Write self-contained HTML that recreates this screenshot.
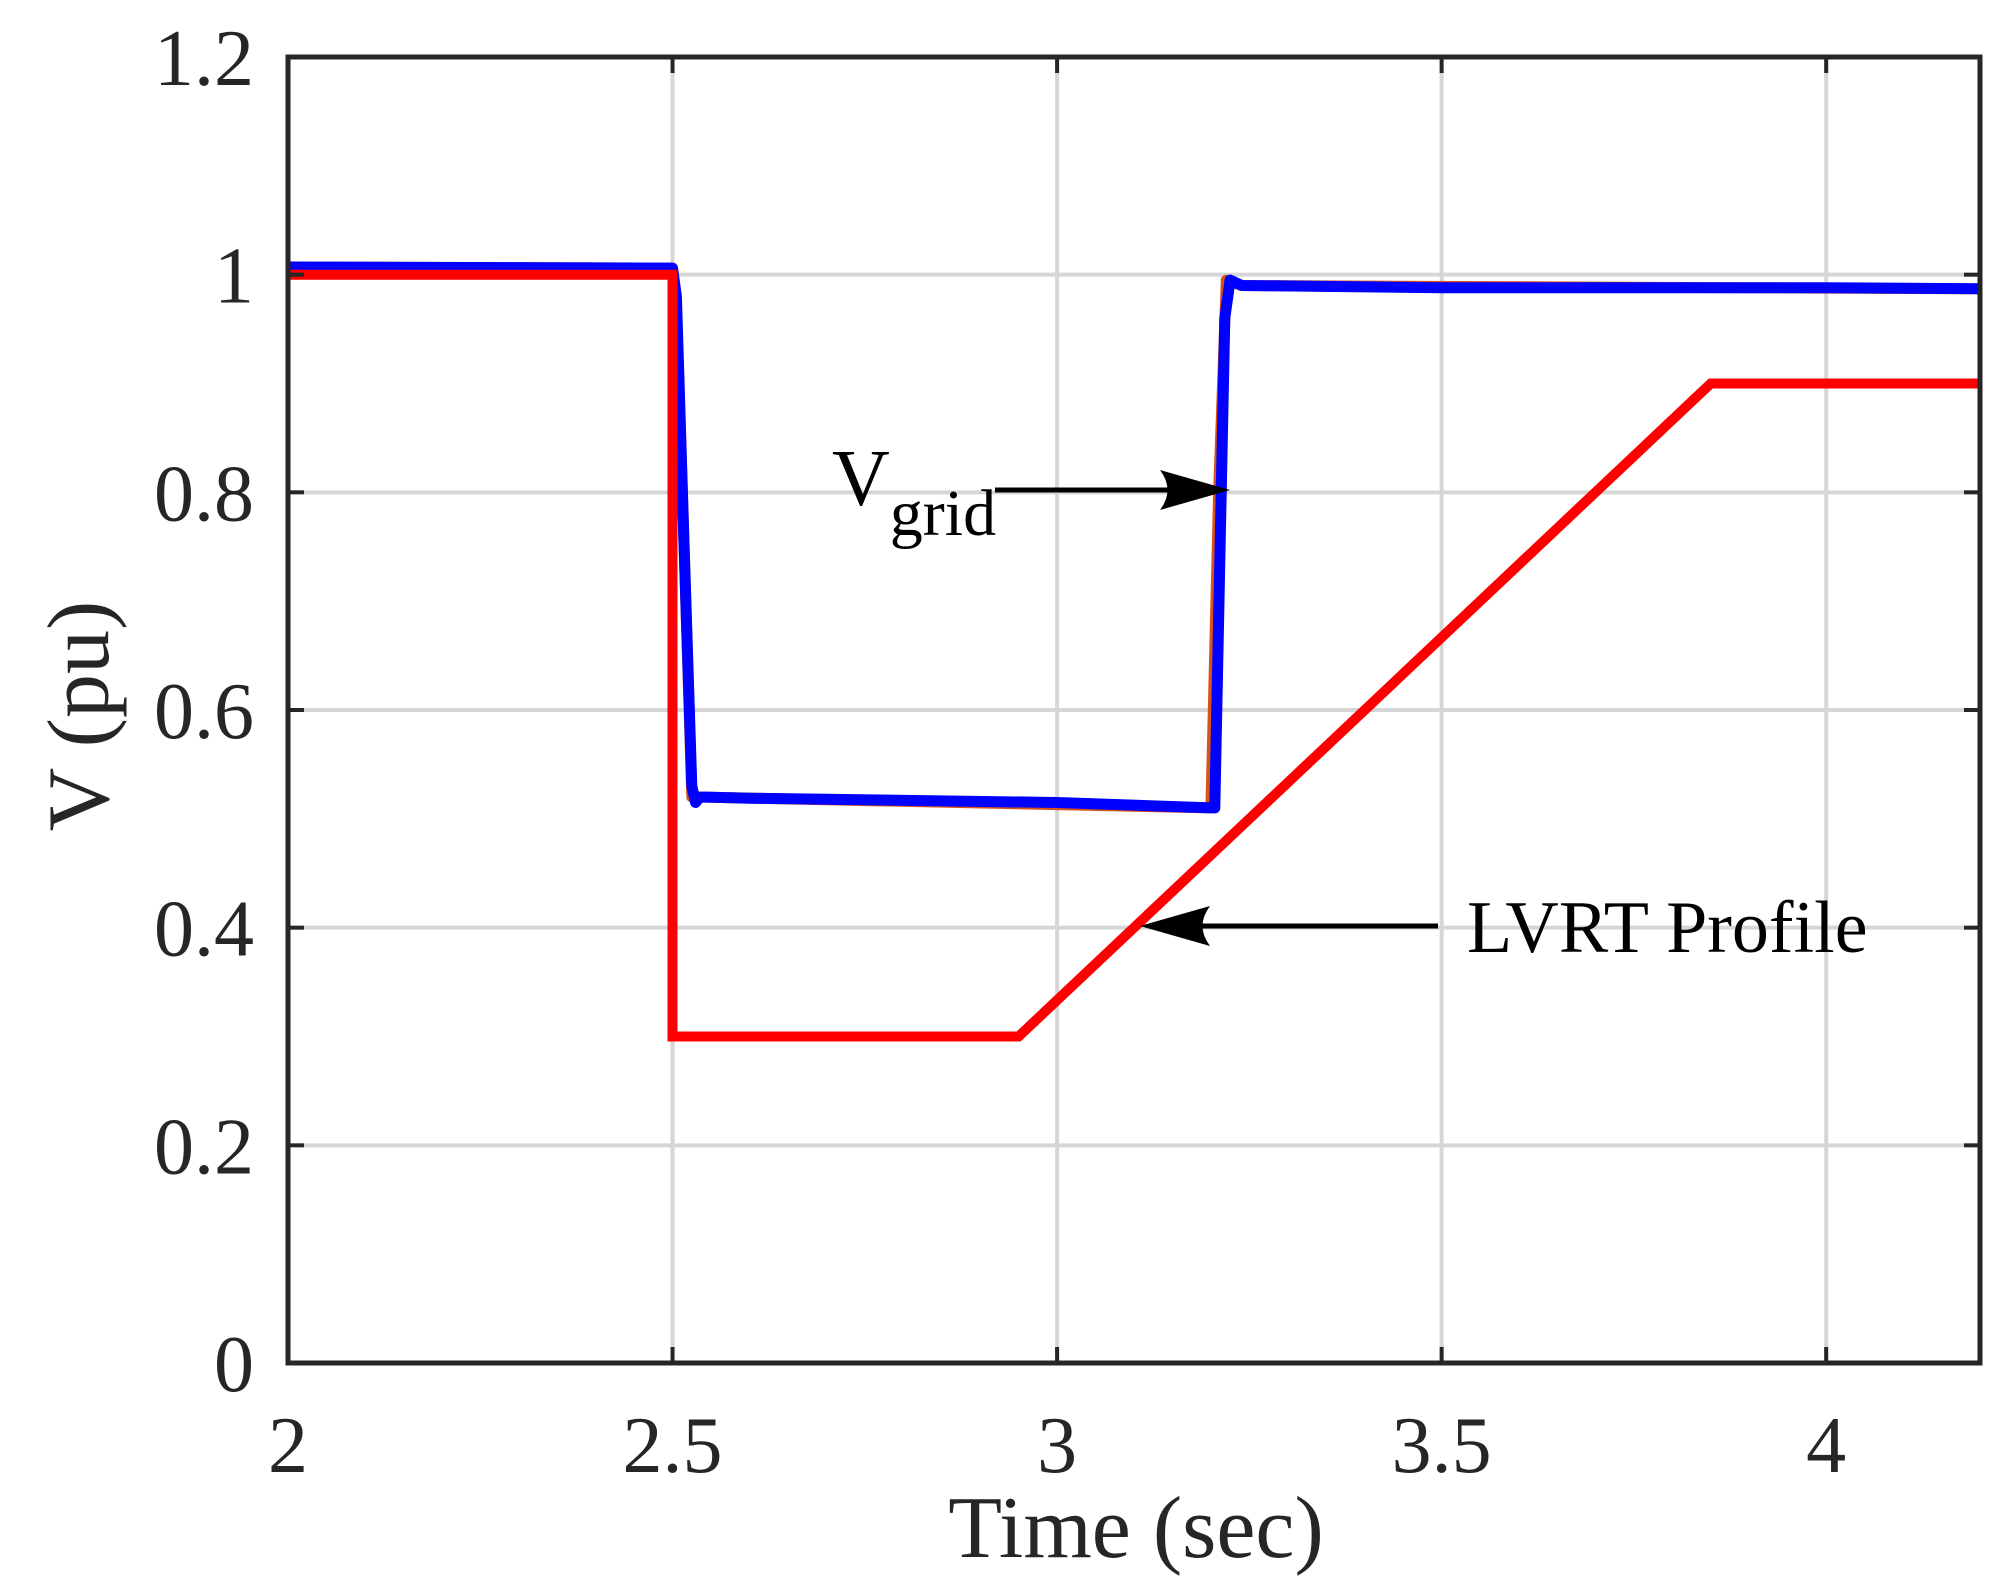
<!DOCTYPE html>
<html><head><meta charset="utf-8"><style>
html,body{margin:0;padding:0;background:#fff;}
svg{display:block;font-family:"Liberation Serif","Times New Roman",serif;}
</style></head><body>
<svg id="chart" width="2013" height="1581" viewBox="0 0 2013 1581" xmlns="http://www.w3.org/2000/svg">
<g id="grid"></g>
<g id="series"></g>
<g id="axes"></g>
<text x="1136" y="1557" font-size="88" text-anchor="middle" fill="#262626">Time (sec)</text>
<text transform="translate(108,716) rotate(-90)" font-size="88" text-anchor="middle" fill="#262626">V (pu)</text>
<text x="832" y="505" font-size="80" fill="#000">V<tspan font-size="66" dy="30">grid</tspan></text>
<line x1="995" y1="490" x2="1195" y2="490" stroke="#000" stroke-width="5"/>
<path d="M1230,490 L1160,470 Q1175,490 1160,510 Z" fill="#000"/>
<text x="1467" y="952" font-size="74" fill="#000">LVRT Profile</text>
<line x1="1438" y1="926" x2="1175" y2="926" stroke="#000" stroke-width="5"/>
<path d="M1140,926 L1210,906 Q1195,926 1210,946 Z" fill="#000"/>
</svg>
<script>
const xTicks=[2,2.5,3,3.5,4];
const xTickLabels=["2","2.5","3","3.5","4"];
const yTicks=[0,0.2,0.4,0.6,0.8,1,1.2];
const yTickLabels=["0","0.2","0.4","0.6","0.8","1","1.2"];
const gridT=[2,2.5,2.505,2.515,2.525,2.53,2.535,2.545,2.6,3.0,3.2,3.205,3.212,3.218,3.225,3.24,3.5,4.0,4.2];
const gridV=[1.007,1.006,0.98,0.75,0.53,0.515,0.52,0.52,0.519,0.515,0.51,0.51,0.75,0.96,0.995,0.99,0.988,0.988,0.987];
const orangeT=[2,2.5,2.505,2.515,2.525,2.54,3.2,3.2,3.21,3.22,3.24,4.2];
const orangeV=[1.007,1.006,0.97,0.75,0.52,0.52,0.51,0.51,0.8,0.995,0.99,0.987];
const lvrtT=[2,2.5,2.5,2.95,3.85,4.2];
const lvrtV=[1,1,0.3,0.3,0.9,0.9];
const X0=2,X1=4.2,Y0=0,Y1=1.2;
const L=288,R=1980,T=57,B=1363;
const sx=v=>L+(v-X0)/(X1-X0)*(R-L);
const sy=v=>B-(v-Y0)/(Y1-Y0)*(B-T);
const NS="http://www.w3.org/2000/svg";
function mk(tag,attrs,parent){const e=document.createElementNS(NS,tag);for(const k in attrs)e.setAttribute(k,attrs[k]);parent.appendChild(e);return e;}
const grid=document.getElementById('grid'),series=document.getElementById('series'),axes=document.getElementById('axes');
xTicks.forEach((t,i)=>{
  const g=mk('line',{x1:sx(t),x2:sx(t),y1:T,y2:B,stroke:'#d6d6d6','stroke-width':4},grid);
  
  
  const a=mk('line',{x1:sx(t),x2:sx(t),y1:B,y2:B-16,stroke:'#262626','stroke-width':4},axes);
  
  
  const b=mk('line',{x1:sx(t),x2:sx(t),y1:T,y2:T+16,stroke:'#262626','stroke-width':4},axes);
  
  
  const tx=mk('text',{x:sx(t),y:1472,'font-size':80,'text-anchor':'middle',fill:'#262626'},axes);
  tx.textContent=xTickLabels[i];
  
  
});
yTicks.forEach((t,i)=>{
  const g=mk('line',{x1:L,x2:R,y1:sy(t),y2:sy(t),stroke:'#d6d6d6','stroke-width':4},grid);
  
  
  const a=mk('line',{x1:L,x2:L+16,y1:sy(t),y2:sy(t),stroke:'#262626','stroke-width':4},axes);
  
  
  const b=mk('line',{x1:R,x2:R-16,y1:sy(t),y2:sy(t),stroke:'#262626','stroke-width':4},axes);
  
  
  const tx=mk('text',{x:254,y:sy(t)+28,'font-size':80,'text-anchor':'end',fill:'#262626'},axes);
  tx.textContent=yTickLabels[i];
  
  
});
const frame=mk('rect',{x:L,y:T,width:R-L,height:B-T,fill:'none',stroke:'#262626','stroke-width':5},axes);


function pts(ts,vs){return ts.map((t,i)=>sx(t).toFixed(1)+','+sy(vs[i]).toFixed(1)).join(' ');}
const o=mk('polyline',{points:pts(orangeT,orangeV),fill:'none',stroke:'#d95319','stroke-width':11,'stroke-linejoin':'round'},series);


const bl=mk('polyline',{points:pts(gridT,gridV),fill:'none',stroke:'#0000ff','stroke-width':11,'stroke-linejoin':'round'},series);


const rd=mk('polyline',{points:pts(lvrtT,lvrtV),fill:'none',stroke:'#ff0000','stroke-width':10,'stroke-linejoin':'miter'},series);


</script>
</body></html>
